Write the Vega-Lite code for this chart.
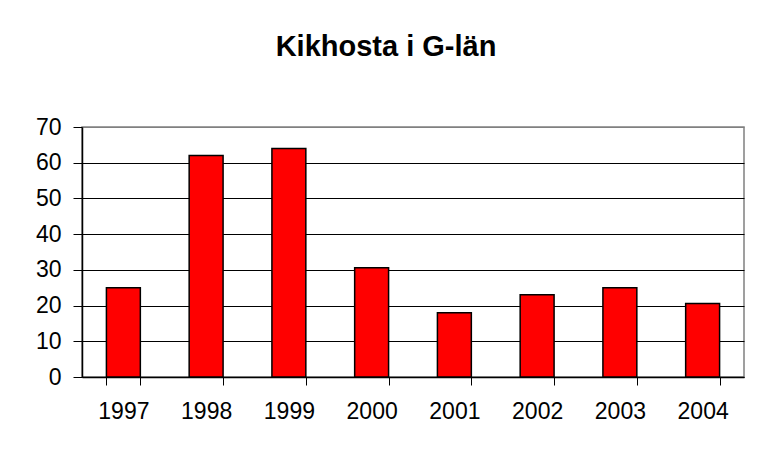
{
  "$schema": "https://vega.github.io/schema/vega-lite/v6.json",
  "width": 662,
  "height": 250,
  "autosize": {"type": "none"},
  "padding": {"left": 82, "top": 127, "right": 18, "bottom": 73},
  "background": "white",
  "title": {
    "text": "Kikhosta i G-län",
    "font": "Liberation Sans",
    "fontSize": 29,
    "fontWeight": "bold",
    "color": "black",
    "anchor": "middle",
    "frame": "group",
    "dx": -27,
    "offset": 54
  },
  "config": {
    "view": {"stroke": "#808080", "strokeWidth": 1.5},
    "axis": {
      "labelFont": "Liberation Sans",
      "labelFontSize": 23,
      "labelColor": "black",
      "domainColor": "black",
      "tickColor": "black",
      "title": null
    }
  },
  "data": {
    "values": [
      {"year": "1997", "value": 25},
      {"year": "1998", "value": 62},
      {"year": "1999", "value": 64},
      {"year": "2000", "value": 30.6},
      {"year": "2001", "value": 18},
      {"year": "2002", "value": 23},
      {"year": "2003", "value": 25},
      {"year": "2004", "value": 20.6}
    ]
  },
  "mark": {"type": "bar", "fill": "#FF0000", "stroke": "black", "strokeWidth": 1.5},
  "encoding": {
    "x": {
      "field": "year",
      "type": "ordinal",
      "scale": {"paddingInner": 0.59, "paddingOuter": 0.295},
      "axis": {
        "labelAngle": 0,
        "tickBand": "extent",
        "tickSize": 8,
        "labelPadding": 15,
        "domainWidth": 1.5
      }
    },
    "y": {
      "field": "value",
      "type": "quantitative",
      "scale": {"domain": [0, 70], "nice": false},
      "axis": {
        "values": [0, 10, 20, 30, 40, 50, 60, 70],
        "tickSize": 9,
        "labelPadding": 12,
        "domainWidth": 1.5,
        "grid": true,
        "gridColor": {"condition": {"test": "datum.value == 70", "value": "#808080"}, "value": "black"},
        "gridWidth": 1
      }
    }
  }
}
